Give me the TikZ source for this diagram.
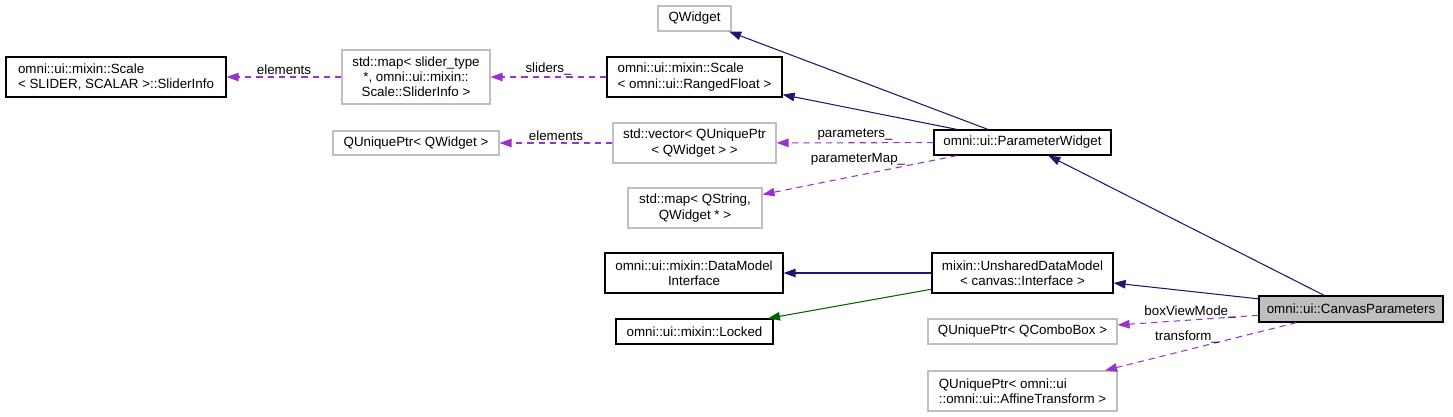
\documentclass[tikz,border=0pt]{standalone}
\usepackage{fontspec}
\setmainfont{Liberation Sans}
\usepackage{xcolor}
\usetikzlibrary{arrows.meta}

\definecolor{edgenavy}{HTML}{191970}
\definecolor{edgegreen}{HTML}{006400}
\definecolor{edgepurple}{HTML}{9A32CD}
\definecolor{boxgray}{HTML}{BFBFBF}

\begin{document}
\begin{tikzpicture}[
    x=0.02cm, y=-0.02cm,
    classbox/.style={rectangle, draw=black, fill=white, line width=0.7pt, inner sep=1pt, font=\fontsize{7.6}{8.6}\selectfont},
    extbox/.style={rectangle, draw=boxgray, fill=white, line width=0.7pt, inner sep=1pt, font=\fontsize{7.6}{8.6}\selectfont},
    focusbox/.style={rectangle, draw=black, fill=boxgray, line width=0.7pt, inner sep=1pt, font=\fontsize{7.6}{8.6}\selectfont},
    inherit/.style={edgenavy, line width=0.6pt, -{Triangle[length=0.24cm, width=0.17cm]}},
    privinherit/.style={edgegreen, line width=0.6pt, -{Triangle[length=0.24cm, width=0.17cm]}},
    usage/.style={edgepurple, line width=0.6pt, dash pattern=on 3.6pt off 2.8pt, -{Triangle[length=0.24cm, width=0.17cm]}},
    lbl/.style={text=black, font=\fontsize{7.6}{8.6}\selectfont, inner sep=1pt}
]
    \useasboundingbox (0,0) rectangle (1453,416);

    % left column
    \node[classbox, minimum width=4.40cm, minimum height=0.80cm, align=left] (sinfo) at (116,77) {omni::ui::mixin::Scale\\< SLIDER, SCALAR >::SliderInfo};
    \node[extbox, minimum width=2.96cm, minimum height=1.08cm, align=center] (smap) at (416,77) {std::map< slider\_type\\*, omni::ui::mixin::\\Scale::SliderInfo >};
    \node[extbox, minimum width=3.32cm, minimum height=0.48cm] (quwidget) at (416,143) {QUniquePtr< QWidget >};

    % middle column
    \node[extbox, minimum width=1.46cm, minimum height=0.50cm] (qwidget) at (694.5,18.5) {QWidget};
    \node[classbox, minimum width=3.50cm, minimum height=0.80cm, align=left] (scale) at (694.5,77) {omni::ui::mixin::Scale\\< omni::ui::RangedFloat >};
    \node[extbox, minimum width=3.26cm, minimum height=0.80cm, align=center] (vec) at (694.5,143) {std::vector< QUniquePtr\\< QWidget > >};
    \node[extbox, minimum width=2.68cm, minimum height=0.80cm, align=center] (qmap) at (695,208) {std::map< QString,\\QWidget * >};
    \node[classbox, minimum width=3.56cm, minimum height=0.80cm, align=center] (dmi) at (694,273) {omni::ui::mixin::DataModel\\Interface};
    \node[classbox, minimum width=3.14cm, minimum height=0.50cm] (locked) at (694.5,331.5) {omni::ui::mixin::Locked};

    % right column
    \node[classbox, minimum width=3.54cm, minimum height=0.50cm] (pwidget) at (1022.5,142.5) {omni::ui::ParameterWidget};
    \node[classbox, minimum width=3.62cm, minimum height=0.80cm, align=center] (unshared) at (1022.5,273) {mixin::UnsharedDataModel\\< canvas::Interface >};
    \node[extbox, minimum width=3.78cm, minimum height=0.50cm] (combo) at (1022.5,331.5) {QUniquePtr< QComboBox >};
    \node[extbox, minimum width=3.78cm, minimum height=0.80cm, align=left] (affine) at (1022.5,391) {QUniquePtr< omni::ui\\::omni::ui::AffineTransform >};
    \node[focusbox, minimum width=3.68cm, minimum height=0.52cm] (canvas) at (1351,309) {omni::ui::CanvasParameters};

    % inheritance
    \draw[inherit] (pwidget) -- (qwidget);
    \draw[inherit] (pwidget) -- (scale);
    \draw[inherit] (canvas) -- (pwidget);
    \draw[inherit] (canvas) -- (unshared);
    \draw[inherit] (unshared) -- (dmi);
    \draw[privinherit] (unshared) -- (locked);

    % members
    \draw[usage] (smap) -- node[lbl, above] (lelem) {elements} (sinfo);
    \draw[usage] (scale) -- node[lbl, above] (lsliders) {sliders\_} (smap);
    \draw[usage] (vec) -- node[lbl, above] (lelem2) {elements} (quwidget);
    \draw[usage] (pwidget) -- node[lbl, above] (lparams) {parameters\_} (vec);
    \draw[usage] (pwidget) -- (qmap);
    \node[lbl] (lpmap) at (858,159) {parameterMap\_};
    \draw[usage] (canvas) -- (combo);
    \node[lbl] (lbox) at (1190,312) {boxViewMode\_};
    \draw[usage] (canvas) -- (affine);
    \node[lbl] (ltrans) at (1187,337) {transform\_};

\end{tikzpicture}
\end{document}
